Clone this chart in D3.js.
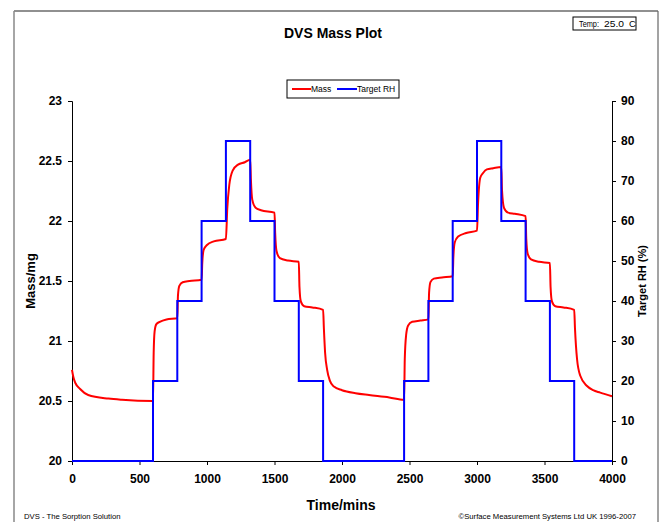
<!DOCTYPE html>
<html>
<head>
<meta charset="utf-8">
<script src="https://cdn.jsdelivr.net/npm/d3@7"></script>
<style>
  body { margin: 0; background: #fff; }
  svg { display: block; font-family: Arial, 'Liberation Sans', sans-serif; }
</style>
</head>
<body>
<div id="chart"></div>
<script>
// data
var massTime = [0, 10, 25, 60, 120, 270, 370, 600,
  605, 612, 625, 650, 700, 780,
  785, 795, 820, 870, 960,
  965, 975, 1000, 1050, 1140,
  1150, 1165, 1190, 1230, 1280, 1320,
  1325, 1335, 1360, 1400, 1500,
  1505, 1515, 1540, 1600, 1680,
  1685, 1695, 1720, 1780, 1860,
  1866, 1875, 1890, 1910, 1940, 2000, 2100, 2200, 2350, 2460,
  2465, 2475, 2490, 2520, 2580, 2640,
  2645, 2655, 2680, 2740, 2820,
  2825, 2835, 2860, 2920, 3000,
  3008, 3024, 3045, 3073, 3120, 3180,
  3185, 3200, 3230, 3280, 3360,
  3365, 3375, 3400, 3460, 3540,
  3545, 3555, 3580, 3640, 3720,
  3726, 3741, 3765, 3815, 3860, 3913, 4000];
var massValue = [20.76, 20.70, 20.65, 20.60, 20.55, 20.52, 20.51, 20.50,
  20.90, 21.08, 21.14, 21.16, 21.18, 21.19,
  21.38, 21.46, 21.49, 21.50, 21.51,
  21.65, 21.76, 21.80, 21.83, 21.85,
  22.10, 22.30, 22.42, 22.47, 22.49, 22.51,
  22.35, 22.18, 22.11, 22.09, 22.07,
  21.90, 21.75, 21.69, 21.67, 21.66,
  21.45, 21.33, 21.29, 21.28, 21.26,
  21.10, 20.90, 20.76, 20.67, 20.62, 20.59, 20.565, 20.55, 20.53, 20.51,
  20.85, 21.05, 21.13, 21.16, 21.17, 21.18,
  21.40, 21.49, 21.52, 21.53, 21.54,
  21.70, 21.82, 21.87, 21.90, 21.92,
  22.15, 22.36, 22.40, 22.43, 22.44, 22.45,
  22.26, 22.11, 22.07, 22.06, 22.04,
  21.85, 21.73, 21.68, 21.66, 21.65,
  21.45, 21.33, 21.29, 21.28, 21.26,
  21.10, 20.85, 20.71, 20.625, 20.59, 20.57, 20.54];

var rhTime = [0, 600, 780, 960, 1140, 1320, 1500, 1680, 1860,
  2460, 2640, 2820, 3000, 3180, 3360, 3540, 3720, 4000];
var rhValue = [0, 20, 40, 60, 80, 60, 40, 20, 0,
  20, 40, 60, 80, 60, 40, 20, 0, 0];

var xTicks = [0, 500, 1000, 1500, 2000, 2500, 3000, 3500, 4000];
var massTicks = [20, 20.5, 21, 21.5, 22, 22.5, 23];
var rhTicks = [0, 10, 20, 30, 40, 50, 60, 70, 80, 90];

var width = 662,
  height = 522;

var massData = massTime.map(function (t, i) { return { t: t, v: massValue[i] }; });
var rhData = rhTime.map(function (t, i) { return { t: t, v: rhValue[i] }; });

var x = d3.scaleLinear().domain([0, 4000]).range([72, 612]);
var yMass = d3.scaleLinear().domain([20, 23]).range([461, 101]);
var yRh = d3.scaleLinear().domain([0, 90]).range([461, 101]);

var svg = d3.select('#chart').append('svg')
  .attr('width', width)
  .attr('height', height);

// outer frame (runs off the bottom of the picture)
svg.append('line')
  .attr('x1', 14).attr('y1', 11).attr('x2', 658).attr('y2', 11)
  .attr('stroke', '#222').attr('stroke-width', 1.2);
svg.append('line')
  .attr('x1', 14).attr('y1', 11).attr('x2', 14).attr('y2', height)
  .attr('stroke', '#888').attr('stroke-width', 1.5);
svg.append('line')
  .attr('x1', 658).attr('y1', 11).attr('x2', 658).attr('y2', height)
  .attr('stroke', '#666').attr('stroke-width', 1.2);

// title
svg.append('text')
  .attr('x', 333).attr('y', 38)
  .attr('text-anchor', 'middle')
  .attr('font-size', 14).attr('font-weight', 'bold')
  .text('DVS Mass Plot');

// temperature box, the C is cut by the border in the original
svg.append('rect')
  .attr('x', 573).attr('y', 17).attr('width', 63).attr('height', 13)
  .attr('fill', 'none').attr('stroke', '#000').attr('stroke-width', 1);
svg.append('clipPath').attr('id', 'tempclip')
  .append('rect').attr('x', 573).attr('y', 17).attr('width', 63).attr('height', 13);
var temp = svg.append('text')
  .attr('clip-path', 'url(#tempclip)')
  .attr('y', 27)
  .attr('font-size', 9.5);
temp.append('tspan').attr('x', 579).attr('textLength', 20).attr('lengthAdjust', 'spacingAndGlyphs').text('Temp:');
temp.append('tspan').attr('x', 604).attr('textLength', 20).attr('lengthAdjust', 'spacingAndGlyphs').text('25.0');
temp.append('tspan').attr('x', 629).text('C');

// axes
svg.append('g')
  .attr('transform', 'translate(0,461)')
  .call(d3.axisBottom(x).tickValues(xTicks).tickFormat(d3.format('d')).tickSizeOuter(0).tickSize(4).tickPadding(9));

svg.append('g')
  .attr('transform', 'translate(72,0)')
  .call(d3.axisLeft(yMass).tickValues(massTicks).tickFormat(function (d) { return String(d); }).tickSizeOuter(0).tickSize(4).tickPadding(6));

svg.append('g')
  .attr('transform', 'translate(612,0)')
  .call(d3.axisRight(yRh).tickValues(rhTicks).tickSizeOuter(0).tickSize(4).tickPadding(5));

svg.selectAll('.tick text')
  .attr('font-family', 'Arial, Liberation Sans, sans-serif')
  .attr('font-size', 12)
  .attr('font-weight', 'bold')
  .attr('fill', '#000');
svg.selectAll('.domain, .tick line').attr('stroke', '#000');

// axis titles
svg.append('text')
  .attr('transform', 'translate(35,281) rotate(-90)')
  .attr('text-anchor', 'middle')
  .attr('font-size', 13).attr('font-weight', 'bold')
  .text('Mass/mg');
svg.append('text')
  .attr('transform', 'translate(646,281) rotate(-90)')
  .attr('text-anchor', 'middle')
  .attr('font-size', 11).attr('font-weight', 'bold')
  .text('Target RH (%)');
svg.append('text')
  .attr('x', 341).attr('y', 510)
  .attr('text-anchor', 'middle')
  .attr('font-size', 14).attr('font-weight', 'bold')
  .text('Time/mins');

// series
var massLine = d3.line()
  .x(function (d) { return x(d.t); })
  .y(function (d) { return yMass(d.v); })
  .curve(d3.curveMonotoneX);

var rhLine = d3.line()
  .x(function (d) { return x(d.t); })
  .y(function (d) { return yRh(d.v); })
  .curve(d3.curveStepAfter);

svg.append('path')
  .datum(massData)
  .attr('d', massLine)
  .attr('fill', 'none')
  .attr('stroke', '#ff0000')
  .attr('stroke-width', 2);

svg.append('path')
  .datum(rhData)
  .attr('d', rhLine)
  .attr('fill', 'none')
  .attr('stroke', '#0000ff')
  .attr('stroke-width', 2);

// legend
var legend = svg.append('g');
legend.append('rect')
  .attr('x', 287).attr('y', 80).attr('width', 112).attr('height', 18)
  .attr('fill', '#fff').attr('stroke', '#000').attr('stroke-width', 1);
legend.append('line')
  .attr('x1', 292).attr('x2', 311).attr('y1', 89).attr('y2', 89)
  .attr('stroke', '#ff0000').attr('stroke-width', 2);
legend.append('text')
  .attr('x', 311).attr('y', 92)
  .attr('font-size', 8.5)
  .text('Mass');
legend.append('line')
  .attr('x1', 337).attr('x2', 357).attr('y1', 89).attr('y2', 89)
  .attr('stroke', '#0000ff').attr('stroke-width', 2);
legend.append('text')
  .attr('x', 357).attr('y', 92)
  .attr('font-size', 8.5)
  .text('Target RH');

// footer
svg.append('text')
  .attr('x', 24).attr('y', 519)
  .attr('font-size', 7.7)
  .text('DVS - The Sorption Solution');
svg.append('text')
  .attr('x', 636).attr('y', 519)
  .attr('text-anchor', 'end')
  .attr('font-size', 7.7)
  .text('\u00a9Surface Measurement Systems Ltd UK 1996-2007');
</script>
</body>
</html>
